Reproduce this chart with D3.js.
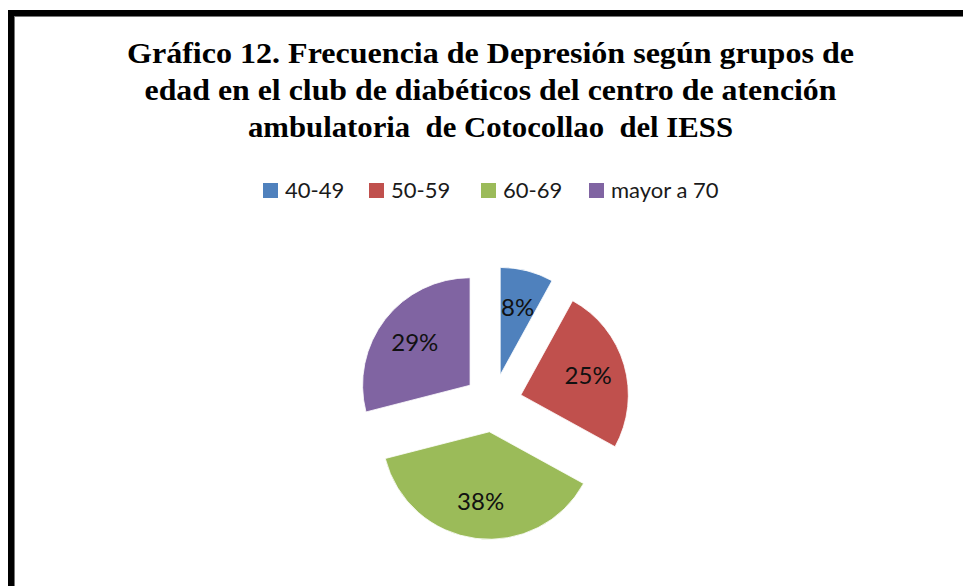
<!DOCTYPE html>
<html>
<head>
<meta charset="utf-8">
<script src="https://cdn.jsdelivr.net/npm/d3@7"></script>
<style>
  html, body { margin: 0; padding: 0; background: #fff; }
  svg { display: block; }
</style>
</head>
<body>
<div id="chart"></div>
<script>
// datos del grafico
var categorias = ["40-49", "50-59", "60-69", "mayor a 70"];
var porcentajes = [8, 25, 38, 29];
var colores = ["#4F81BD", "#C0504D", "#9BBB59", "#8064A2"];
var titulo = [
    "Gráfico 12. Frecuencia de Depresión según grupos de",
    "edad en el club de diabéticos del centro de atención",
    "ambulatoria  de Cotocollao  del IESS"
];
var anchoTitulo = [727, 692, 485]; // ancho medido de cada linea

var width = 963, height = 586;
var radio = 107.5;
var separacion = 29; // explosion de las porciones
var centroX = 493, centroY = 403;

var svg = d3.select("#chart").append("svg")
    .attr("width", width)
    .attr("height", height);

svg.append("rect")
    .attr("width", width)
    .attr("height", height)
    .attr("fill", "#fff");

/******************* marco *******************/
svg.append("line")
    .attr("x1", 8).attr("x2", width)
    .attr("y1", 13).attr("y2", 13)
    .attr("stroke", "#000").attr("stroke-width", 6);
svg.append("line")
    .attr("x1", 8).attr("x2", width)
    .attr("y1", 16.5).attr("y2", 16.5)
    .attr("stroke", "#777").attr("stroke-width", 1);
svg.append("line")
    .attr("x1", 11).attr("x2", 11)
    .attr("y1", 10).attr("y2", height)
    .attr("stroke", "#000").attr("stroke-width", 6);
svg.append("line")
    .attr("x1", 14.5).attr("x2", 14.5)
    .attr("y1", 16).attr("y2", height)
    .attr("stroke", "#777").attr("stroke-width", 1);

/******************* titulo *******************/
svg.append("g")
    .selectAll("text")
    .data(titulo)
    .enter().append("text")
    .attr("x", 490.5)
    .attr("y", function(d, i){ return 63 + i*37; })
    .attr("text-anchor", "middle")
    .attr("textLength", function(d, i){ return anchoTitulo[i]; })
    .attr("lengthAdjust", "spacingAndGlyphs")
    .style("white-space", "pre")
    .style("font-family", "'Liberation Serif', 'Times New Roman', serif")
    .style("font-weight", "bold")
    .style("font-size", "30px")
    .attr("fill", "#000")
    .text(function(d){ return d; });

/******************* leyenda *******************/
var posLeyenda = [263, 369, 481, 589];
var leyenda = svg.append("g").attr("class", "leyenda");
var items = leyenda.selectAll("g")
    .data(categorias)
    .enter().append("g")
    .attr("transform", function(d, i){ return "translate(" + posLeyenda[i] + ",0)"; });
items.append("rect")
    .attr("x", 0).attr("y", 183)
    .attr("width", 15).attr("height", 15)
    .attr("fill", function(d, i){ return colores[i]; });
items.append("text")
    .attr("x", 22).attr("y", 198)
    .style("font-family", "Lato, 'Open Sans', sans-serif")
    .style("font-size", "22px")
    .attr("fill", "#1a1a1a")
    .text(function(d){ return d; });

/******************* torta *******************/
var pie = d3.pie().sort(null).value(function(d){ return d; });
var arc = d3.arc().innerRadius(0).outerRadius(radio);
var arcEtiqueta = d3.arc().innerRadius(70).outerRadius(70);

var porciones = pie(porcentajes);

var gTorta = svg.append("g")
    .attr("transform", "translate(" + centroX + "," + centroY + ")");

var gPorcion = gTorta.selectAll("g.porcion")
    .data(porciones)
    .enter().append("g")
    .attr("class", "porcion")
    .attr("transform", function(d){
        var medio = (d.startAngle + d.endAngle)/2;
        return "translate(" + (separacion*Math.sin(medio)) + "," + (-separacion*Math.cos(medio)) + ")";
    });

gPorcion.append("path")
    .attr("d", arc)
    .attr("fill", function(d, i){ return colores[i]; })
    .attr("stroke", "#fff")
    .attr("stroke-width", 0.8);

gPorcion.append("text")
    .attr("transform", function(d){ return "translate(" + arcEtiqueta.centroid(d) + ")"; })
    .attr("text-anchor", "middle")
    .attr("dy", "0.36em")
    .style("font-family", "Lato, 'Open Sans', sans-serif")
    .style("font-size", "24px")
    .attr("fill", "#111")
    .text(function(d){ return d.data + "%"; });
</script>
</body>
</html>
